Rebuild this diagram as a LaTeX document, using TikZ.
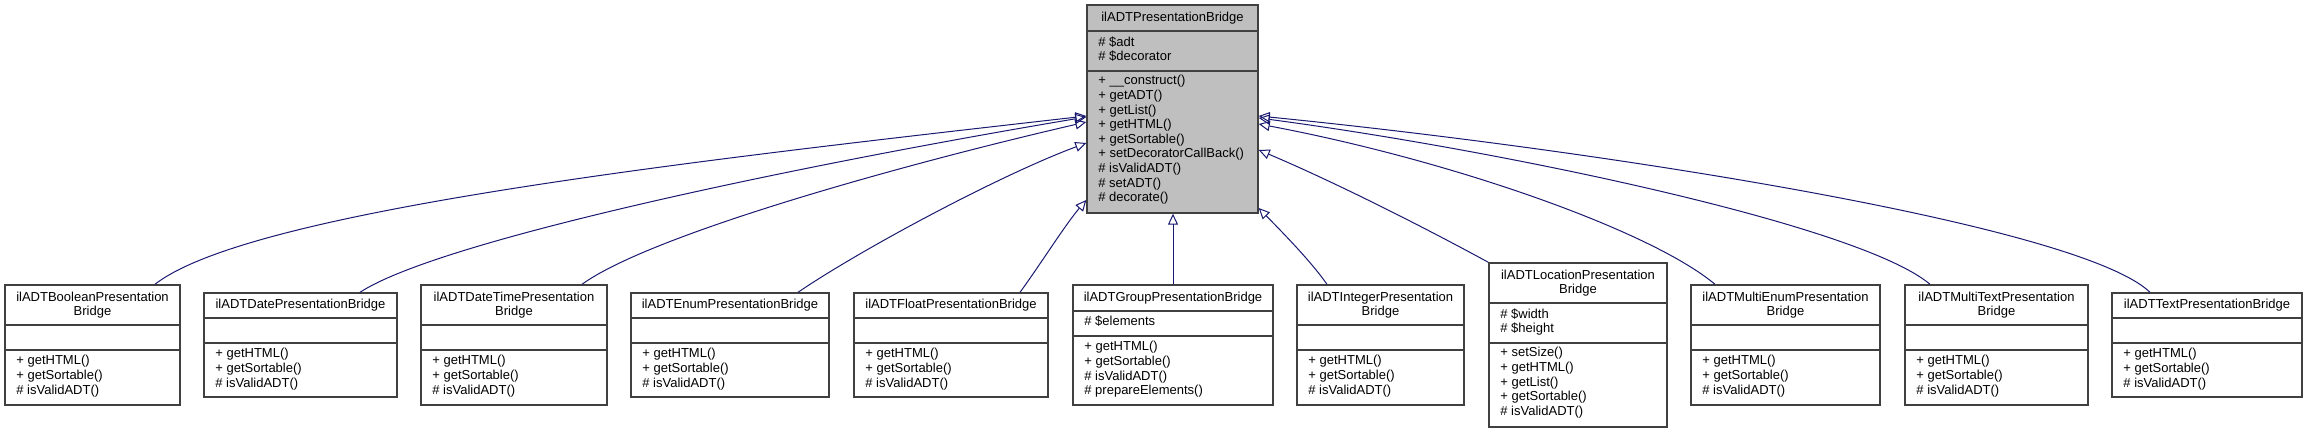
\documentclass[tikz,border=0pt]{standalone}
\usepackage{fontspec}
\setmainfont{Liberation Sans}
\usetikzlibrary{arrows.meta,fit}
\definecolor{edgec}{HTML}{191970}
\definecolor{boxc}{HTML}{404040}
\tikzset{
  box/.style={draw=boxc, line width=0.7pt, inner sep=0pt},
  ttl/.style={anchor=center, align=center, inner sep=0pt, font=\fontsize{6.5}{7.3}\selectfont},
  txt/.style={anchor=north west, align=left, inner sep=0pt, font=\fontsize{6.5}{7.3}\selectfont},
  sep/.style={draw=boxc, line width=0.7pt},
  edge/.style={draw=edgec, line width=0.5pt, -{Triangle[open,length=5.5pt,width=5pt]}}
}
% name, x1, y1, x2, y2, fill
\newcommand\umlbox[6]{\node[box, fill=#6, fit={(#2,#3)(#4,#5)}] (#1) {};}
% name, y of divider
\newcommand\umlsep[2]{\draw[sep] (#1.west |- 0,#2) -- (#1.east |- 0,#2);}
\begin{document}
\begin{tikzpicture}[x=0.5pt,y=-0.5pt]
\useasboundingbox (0,0) rectangle (2308,433);

% parent
\umlbox{p}{1087}{5}{1258}{213}{black!25}
\umlsep{p}{31}\umlsep{p}{71}
\node[ttl] (pt) at (1172.5,18) {ilADTPresentationBridge};
\node[txt] (pa) at (1098,36) {\# \$adt\\\# \$decorator};
\node[txt] (pm) at (1098,75) {+ \_\_construct()\\+ getADT()\\+ getList()\\+ getHTML()\\+ getSortable()\\+ setDecoratorCallBack()\\\# isValidADT()\\\# setADT()\\\# decorate()};

% children: two-line titles (285-405)
\umlbox{bo}{5}{285}{180}{405}{white}\umlsep{bo}{325}\umlsep{bo}{350}
\node[ttl] at (92.5,305) {ilADTBooleanPresentation\\Bridge};
\node[txt] at (16,355) {+ getHTML()\\+ getSortable()\\\# isValidADT()};

\umlbox{da}{204}{293}{397}{397}{white}\umlsep{da}{318}\umlsep{da}{343}
\node[ttl] at (300.5,305.5) {ilADTDatePresentationBridge};
\node[txt] at (215,348) {+ getHTML()\\+ getSortable()\\\# isValidADT()};

\umlbox{dt}{421}{285}{607}{405}{white}\umlsep{dt}{325}\umlsep{dt}{350}
\node[ttl] at (514,305) {ilADTDateTimePresentation\\Bridge};
\node[txt] at (432,355) {+ getHTML()\\+ getSortable()\\\# isValidADT()};

\umlbox{en}{631}{293}{829}{397}{white}\umlsep{en}{318}\umlsep{en}{343}
\node[ttl] at (730,305.5) {ilADTEnumPresentationBridge};
\node[txt] at (642,348) {+ getHTML()\\+ getSortable()\\\# isValidADT()};

\umlbox{fl}{854}{293}{1048}{397}{white}\umlsep{fl}{318}\umlsep{fl}{343}
\node[ttl] at (951,305.5) {ilADTFloatPresentationBridge};
\node[txt] at (865,348) {+ getHTML()\\+ getSortable()\\\# isValidADT()};

\umlbox{gr}{1073}{285}{1273}{405}{white}\umlsep{gr}{311}\umlsep{gr}{336}
\node[ttl] at (1173,298) {ilADTGroupPresentationBridge};
\node[txt] at (1084,315.5) {\# \$elements};
\node[txt] at (1084,341) {+ getHTML()\\+ getSortable()\\\# isValidADT()\\\# prepareElements()};

\umlbox{in}{1297}{285}{1464}{405}{white}\umlsep{in}{325}\umlsep{in}{350}
\node[ttl] at (1380.5,305) {ilADTIntegerPresentation\\Bridge};
\node[txt] at (1308,355) {+ getHTML()\\+ getSortable()\\\# isValidADT()};

\umlbox{lo}{1489}{263}{1667}{427}{white}\umlsep{lo}{303}\umlsep{lo}{343}
\node[ttl] at (1578,283) {ilADTLocationPresentation\\Bridge};
\node[txt] at (1500,308) {\# \$width\\\# \$height};
\node[txt] at (1500,347) {+ setSize()\\+ getHTML()\\+ getList()\\+ getSortable()\\\# isValidADT()};

\umlbox{me}{1691}{285}{1880}{405}{white}\umlsep{me}{325}\umlsep{me}{350}
\node[ttl] at (1785.5,305) {ilADTMultiEnumPresentation\\Bridge};
\node[txt] at (1702,355) {+ getHTML()\\+ getSortable()\\\# isValidADT()};

\umlbox{mt}{1905}{285}{2088}{405}{white}\umlsep{mt}{325}\umlsep{mt}{350}
\node[ttl] at (1996.5,305) {ilADTMultiTextPresentation\\Bridge};
\node[txt] at (1916,355) {+ getHTML()\\+ getSortable()\\\# isValidADT()};

\umlbox{tx}{2112}{293}{2302}{397}{white}\umlsep{tx}{318}\umlsep{tx}{343}
\node[ttl] at (2207,305.5) {ilADTTextPresentationBridge};
\node[txt] at (2123,348) {+ getHTML()\\+ getSortable()\\\# isValidADT()};

% edges
\draw[edge] (bo.north -| 155,0) .. controls (250,210) and (700,160) .. (p.west |- 0,116);
\draw[edge] (da.north -| 360,0) .. controls (440,240) and (800,165) .. (p.west |- 0,117);
\draw[edge] (dt.north -| 582,0) .. controls (650,235) and (900,165) .. (p.west |- 0,122);
\draw[edge] (en.north -| 798,0) .. controls (860,250) and (1000,175) .. (p.west |- 0,143);
\draw[edge] (fl.north -| 1020,0) .. controls (1040,265) and (1065,225) .. (p.west |- 0,200);
\draw[edge] (gr.north -| 1173,0) -- (p.south -| 1173,0);
\draw[edge] (in.north -| 1327,0) .. controls (1310,260) and (1280,230) .. (p.east |- 0,208);
\draw[edge] (lo.north west) .. controls (1420,225) and (1330,180) .. (p.east |- 0,150);
\draw[edge] (me.north -| 1715,0) .. controls (1650,230) and (1450,160) .. (p.east |- 0,124);
\draw[edge] (mt.north -| 1930,0) .. controls (1860,225) and (1500,150) .. (p.east |- 0,118);
\draw[edge] (tx.north -| 2150,0) .. controls (2080,225) and (1600,150) .. (p.east |- 0,116);
\end{tikzpicture}
\end{document}
